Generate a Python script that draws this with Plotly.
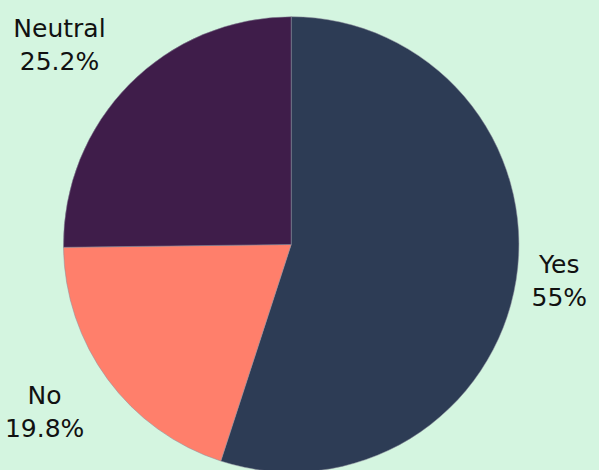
import plotly.graph_objects as go

labels = ["Yes", "No", "Neutral"]
values = [55.0, 19.8, 25.2]
colors = ["#2d3c55", "#ff7f6b", "#3f1d4a"]
# per-slice label layout (blank lines nudge plotly's outside label placement)
label_templates = [
    "%{label}<br>%{percent}",
    "&nbsp;<br>%{label}<br>%{percent}",
    "%{label}<br>%{percent}<br>&nbsp;",
]

W, H = 599, 486

fig = go.Figure(go.Pie(
    labels=labels,
    values=values,
    sort=False,
    direction="clockwise",
    rotation=0,
    marker=dict(colors=colors, line=dict(color="#8a8a9a", width=0.5)),
    texttemplate=label_templates,
    textposition="outside",
    textfont=dict(family="DejaVu Sans", size=25, color="#111111"),
    showlegend=False,
    hoverinfo="label+percent",
    domain=dict(x=[44 / W, 516 / W], y=[1 - 483 / H, 1 - 11 / H]),
))

fig.update_layout(
    width=W, height=H,
    margin=dict(l=0, r=0, t=0, b=0),
    paper_bgcolor="#d4f5e0",
    plot_bgcolor="#d4f5e0",
)

fig.write_html(
    "out.html",
    config={"displayModeBar": False},
    post_script="document.body.style.margin='0';document.body.style.overflow='hidden';document.documentElement.style.overflow='hidden';document.body.style.background='#d4f5e0';",
)
